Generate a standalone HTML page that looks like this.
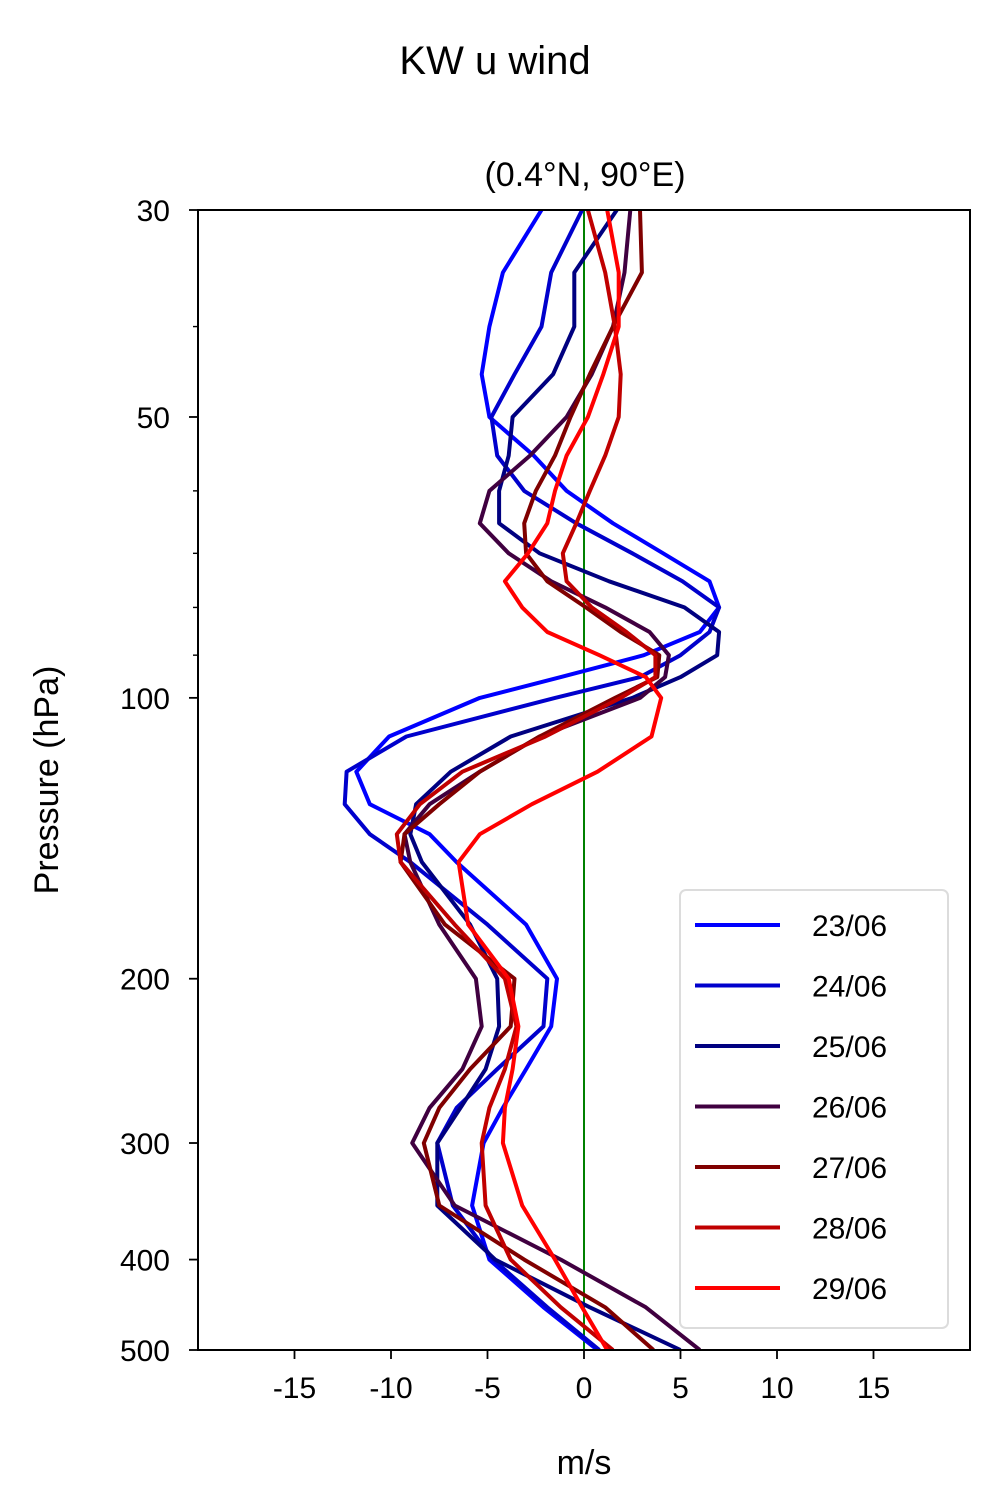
<!DOCTYPE html>
<html><head><meta charset="utf-8"><style>
body{margin:0;background:#fff}
svg{display:block;font-family:"Liberation Sans","DejaVu Sans",sans-serif}
</style></head><body>
<svg id="chart" width="990" height="1500" viewBox="0 0 990 1500" xmlns="http://www.w3.org/2000/svg">
<text x="495" y="74" font-size="40" text-anchor="middle">KW u wind</text>
<text x="585" y="186" font-size="34" text-anchor="middle">(0.4°N, 90°E)</text>
<g id="plot"></g>
<text x="584" y="1474" font-size="34" text-anchor="middle">m/s</text>
<text transform="translate(58,780) rotate(-90)" font-size="34" text-anchor="middle">Pressure (hPa)</text>
</svg>
<script>
const levels=[30,35,40,45,50,55,60,65,70,75,80,85,90,95,100,110,120,130,140,150,175,200,225,250,275,300,350,400,450,500];
const dates=["23/06","24/06","25/06","26/06","27/06","28/06","29/06"];
const colors=["#0000ff","#0000cc","#000080","#400040","#800000","#c00000","#ff0000"];
const s23=[-2.2,-4.2,-4.9,-5.3,-4.9,-2.6,-0.9,1.5,4.1,6.5,7.0,6.0,3.1,-1.2,-5.4,-10.1,-11.8,-11.1,-8.0,-6.6,-3.0,-1.4,-1.7,-3.0,-4.2,-5.2,-5.8,-4.9,-2.1,0.7];
const s24=[-0.1,-1.7,-2.2,-3.6,-4.8,-4.5,-3.1,-0.4,2.5,5.1,7.0,6.5,5.0,2.9,-1.5,-9.2,-12.3,-12.4,-11.1,-9.0,-5.0,-1.9,-2.1,-4.5,-6.6,-7.6,-6.8,-4.7,-1.9,0.8];
const s25=[1.7,-0.5,-0.5,-1.6,-3.7,-3.9,-4.4,-4.4,-2.3,1.3,5.2,7.0,6.9,5.0,2.5,-3.8,-6.9,-8.7,-9.0,-8.4,-5.9,-4.5,-4.4,-5.1,-6.4,-7.6,-7.6,-4.6,0.3,5.0];
const s26=[2.4,2.1,1.5,0.4,-0.9,-2.8,-4.9,-5.4,-3.9,-1.7,1.1,3.4,4.4,4.2,2.9,-2.3,-5.4,-8.0,-9.3,-9.0,-7.5,-5.6,-5.3,-6.3,-8.0,-8.9,-6.7,-1.2,3.2,6.0];
const s27=[2.9,3.0,1.5,0.3,-0.7,-1.5,-2.5,-3.1,-3.0,-1.9,0.1,1.9,3.9,3.8,1.6,-2.3,-5.4,-7.5,-9.3,-9.5,-7.2,-3.6,-3.8,-5.9,-7.5,-8.3,-7.5,-3.1,1.1,3.6];
const s28=[0.2,1.1,1.6,1.9,1.8,1.1,0.3,-0.4,-1.1,-0.9,0.4,2.2,3.7,3.7,1.9,-2.0,-6.3,-8.5,-9.7,-9.5,-6.7,-4.1,-3.5,-4.1,-4.9,-5.3,-5.1,-3.8,-1.2,1.5];
const s29=[1.2,1.8,1.8,1.0,0.2,-0.9,-1.5,-1.9,-2.9,-4.1,-3.2,-1.9,0.8,3.2,4.0,3.5,0.7,-2.7,-5.4,-6.5,-6.0,-3.9,-3.4,-3.7,-4.1,-4.2,-3.2,-1.5,-0.1,1.2];
const series=[s23,s24,s25,s26,s27,s28,s29];
const xTicks=[-15,-10,-5,0,5,10,15];
const yTicks=[30,50,100,200,300,400,500];
const yMinor=[40,60,70,80,90];

const L=198,R=970,T=210,B=1350,xmin=-20,xmax=20,pmin=30,pmax=500;
const NS="http://www.w3.org/2000/svg";
const X=v=>L+(v-xmin)/(xmax-xmin)*(R-L);
const Y=p=>T+(Math.log10(p)-Math.log10(pmin))/(Math.log10(pmax)-Math.log10(pmin))*(B-T);
const g=document.getElementById('plot');
function mk(tag,attrs,parent){const e=document.createElementNS(NS,tag);for(const k in attrs)e.setAttribute(k,attrs[k]);(parent||g).appendChild(e);return e;}
const clip=mk('clipPath',{id:'cp'});mk('rect',{x:L,y:T,width:R-L,height:B-T},clip);
const lines=mk('g',{'clip-path':'url(#cp)'});


const zl=mk('line',{x1:X(0),x2:X(0),y1:T,y2:B,stroke:'#008000','stroke-width':2},lines);


series.forEach((s,i)=>{
  const d=s.map((v,j)=>(j?'L':'M')+X(v).toFixed(1)+','+Y(levels[j]).toFixed(1)).join('');
  const p=mk('path',{d:d,fill:'none',stroke:colors[i],'stroke-width':4,'stroke-linejoin':'round'},lines);
  
  
});
const frame=mk('rect',{x:L,y:T,width:R-L,height:B-T,fill:'none',stroke:'#000','stroke-width':2});


xTicks.forEach(t=>{
  mk('line',{x1:X(t),x2:X(t),y1:B,y2:B+9,stroke:'#000','stroke-width':1.8});
  const tx=mk('text',{x:X(t),y:B+48,'font-size':30,'text-anchor':'middle'});tx.textContent=t;
  
  
});
yTicks.forEach(t=>{
  mk('line',{x1:L-9,x2:L,y1:Y(t),y2:Y(t),stroke:'#000','stroke-width':1.8});
  const tx=mk('text',{x:L-28,y:Y(t)+11,'font-size':30,'text-anchor':'end'});tx.textContent=t;
  
  
});
yMinor.forEach(t=>{mk('line',{x1:L-5,x2:L,y1:Y(t),y2:Y(t),stroke:'#000','stroke-width':1.4});});
const lg=mk('g',{});


mk('rect',{x:680,y:890,width:268,height:438,rx:6,fill:'#fff','fill-opacity':0.85,stroke:'#dcdcdc','stroke-width':2},lg);
dates.forEach((dt,i)=>{
  const y=925+i*60.5;
  const e=mk('g',{},lg);
  
  
  mk('line',{x1:695,x2:780,y1:y,y2:y,stroke:colors[i],'stroke-width':4},e);
  const tx=mk('text',{x:812,y:y+11,'font-size':30},e);tx.textContent=dt;
});
</script>
</body></html>
